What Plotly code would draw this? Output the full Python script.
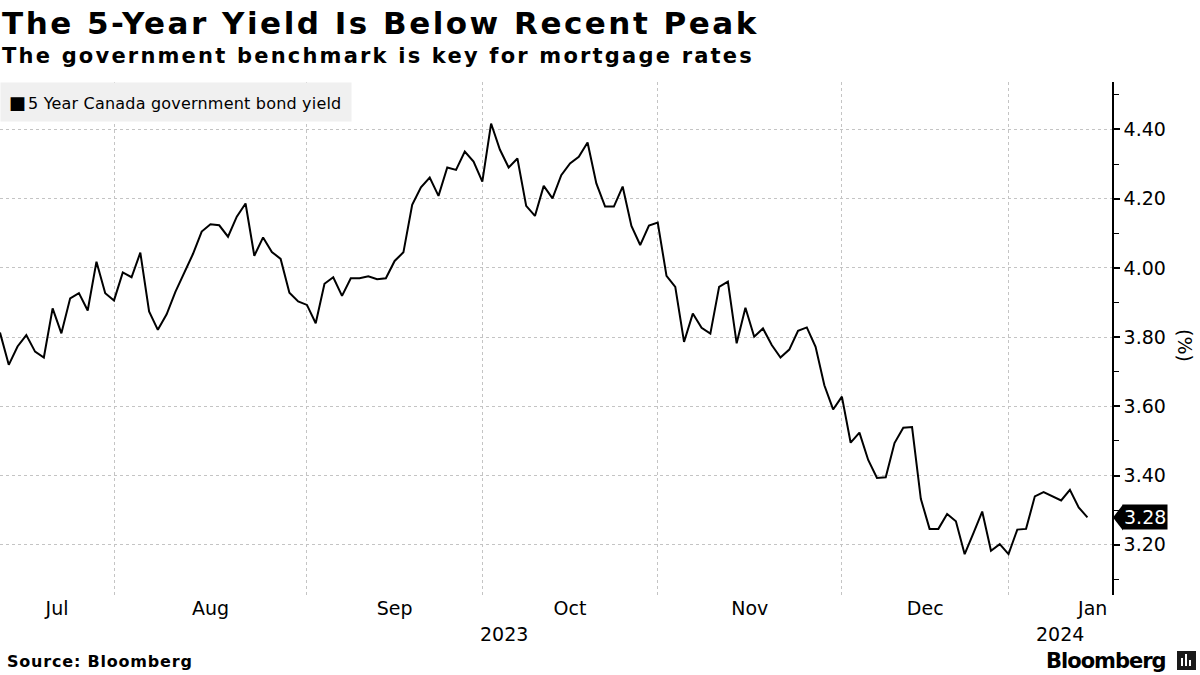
import pandas as pd
import plotly.graph_objects as go

# ---- data -------------------------------------------------------------
holidays = ["2023-08-07", "2023-09-04", "2023-10-02", "2023-10-09",
            "2023-11-13", "2023-12-25", "2023-12-26", "2024-01-01"]
dates = [d.strftime("%Y-%m-%d") for d in pd.bdate_range("2023-07-13", "2024-01-15")
         if d.strftime("%Y-%m-%d") not in holidays]

yields = [
    3.813, 3.720, 3.773, 3.806, 3.758, 3.741, 3.883, 3.811, 3.912, 3.927,
    3.877, 4.018, 3.927, 3.906, 3.987, 3.973, 4.044, 3.874, 3.821, 3.866,
    3.931, 3.984, 4.040, 4.105, 4.126, 4.123, 4.090, 4.148, 4.186, 4.035,
    4.088, 4.046, 4.026, 3.928, 3.903, 3.893, 3.840, 3.954, 3.973, 3.919,
    3.970, 3.970, 3.976, 3.967, 3.970, 4.020, 4.045, 4.182, 4.233, 4.261,
    4.208, 4.290, 4.283, 4.336, 4.307, 4.249, 4.417, 4.342, 4.290, 4.316,
    4.179, 4.150, 4.237, 4.201, 4.268, 4.302, 4.321, 4.362, 4.244, 4.177,
    4.177, 4.235, 4.121, 4.066, 4.122, 4.131, 3.977, 3.945, 3.786, 3.868,
    3.827, 3.810, 3.945, 3.960, 3.782, 3.885, 3.801, 3.825, 3.777, 3.741,
    3.764, 3.818, 3.828, 3.772, 3.661, 3.591, 3.628, 3.495, 3.524, 3.445,
    3.393, 3.395, 3.494, 3.538, 3.540, 3.333, 3.246, 3.246, 3.289, 3.268,
    3.173, 3.234, 3.296, 3.183, 3.202, 3.173, 3.244, 3.246, 3.340, 3.352,
    3.340, 3.328, 3.359, 3.308, 3.279,
]

month_names = ["Jul", "Aug", "Sep", "Oct", "Nov", "Dec", "Jan"]
year_labels = ["2023", "2024"]
y_ticks = [3.2, 3.4, 3.6, 3.8, 4.0, 4.2, 4.4]

title = "The 5-Year Yield Is Below Recent Peak"
subtitle = "The government benchmark is key for mortgage rates"
series_name = "5 Year Canada government bond yield"
source = "Source: Bloomberg"

# ---- derived positions (trading-day index axis) -------------------------
idx = list(range(len(dates)))
x_max = len(dates) + 1.8
y_min, y_max = 3.055, 4.537

month_starts = [i for i in range(1, len(dates)) if dates[i][5:7] != dates[i - 1][5:7]]
bounds = [0] + month_starts + [x_max]
month_pos = [(bounds[k] + bounds[k + 1]) / 2 for k in range(len(bounds) - 1)]
month_pos[-1] = x_max - 2.2
year_start = [i for i in month_starts if dates[i][5:7] == "01"][0]
year_pos = [year_start / 2, (year_start + x_max) / 2]

FONT = "DejaVu Sans"
GRID = "#c4c4c4"


def spaced(txt, px, bold=True):
    inner = f"<span style='letter-spacing:{px}px'>{txt}</span>"
    return f"<b>{inner}</b>" if bold else inner


fig = go.Figure()
fig.add_trace(go.Scatter(
    x=idx, y=yields, mode="lines", name=series_name,
    line=dict(color="black", width=2), customdata=dates,
    hovertemplate="%{customdata}: %{y:.3f}<extra></extra>", showlegend=False,
))

fig.update_layout(
    width=1200, height=675,
    margin=dict(l=0, r=88, t=82, b=80),
    paper_bgcolor="white", plot_bgcolor="white",
    font=dict(family=FONT, color="black", size=19),
    xaxis=dict(
        type="linear", range=[0, x_max], showgrid=False, zeroline=False,
        showline=False, tickmode="array", tickvals=month_pos, ticktext=month_names,
        ticks="", tickfont=dict(size=19),
        minor=dict(tickmode="array", tickvals=month_starts, showgrid=True,
                   gridcolor=GRID, griddash="dot", gridwidth=1, ticks=""),
    ),
    yaxis=dict(
        side="right", range=[y_min, y_max], tickmode="array", tickvals=y_ticks,
        tickformat=".2f", showgrid=True, gridcolor=GRID, griddash="dot", gridwidth=1,
        zeroline=False, showline=True, linecolor="black", linewidth=1.5,
        ticks="outside", ticklen=6, tickwidth=1.5, tickcolor="black",
        tickfont=dict(size=19),
        minor=dict(tickmode="linear", tick0=0, dtick=0.1, ticks="outside",
                   ticklen=5, tickcolor="black", tickwidth=1, showgrid=False),
    ),
)


def ypix(py):
    return (595 - py) / 513.0


ann = []
ann.append(dict(text=spaced(title, 2.5), x=0, y=ypix(23), xref="paper", yref="paper",
                xanchor="left", yanchor="middle", showarrow=False,
                font=dict(size=31, family=FONT)))
ann.append(dict(text=spaced(subtitle, 2.2), x=0, y=ypix(56), xref="paper", yref="paper",
                xanchor="left", yanchor="middle", showarrow=False,
                font=dict(size=21, family=FONT)))
ann.append(dict(text="<span style='font-size:18px'>&nbsp;■</span><span style='font-size:7px'>&nbsp;</span>"
                     + spaced(series_name, 0.2, bold=False),
                x=0, y=ypix(102), xref="paper", yref="paper",
                xanchor="left", yanchor="middle", showarrow=False, align="left",
                width=346, height=34, bgcolor="#f0f0f0", borderpad=2,
                font=dict(size=16, family=FONT)))
for yp, yl in zip(year_pos, year_labels):
    ann.append(dict(text=yl, x=yp, y=ypix(634), xref="x", yref="paper",
                    xanchor="center", yanchor="middle", showarrow=False,
                    font=dict(size=19, family=FONT)))
ann.append(dict(text="(%)", x=1185 / 1112, y=ypix(345), xref="paper", yref="paper",
                xanchor="center", yanchor="middle", showarrow=False, textangle=90,
                font=dict(size=19, family=FONT)))
ann.append(dict(text=f"{yields[-1]:.2f}", x=1, xshift=10, y=yields[-1], xref="paper", yref="y",
                xanchor="left", yanchor="middle", showarrow=False,
                bgcolor="black", borderpad=1, font=dict(size=19, color="white", family=FONT)))
ann.append(dict(text=spaced(source, 0.8), x=0, xshift=5, y=ypix(661), xref="paper", yref="paper",
                xanchor="left", yanchor="middle", showarrow=False,
                font=dict(size=16, family=FONT)))
ann.append(dict(text=spaced("Bloomberg", -1), x=1168 / 1112, y=ypix(661), xref="paper", yref="paper",
                xanchor="right", yanchor="middle", showarrow=False,
                font=dict(size=21, family=FONT)))
fig.update_layout(annotations=ann)

shapes = [
    # pointer of the last-value label
    dict(type="path", xref="paper", yref="y", xsizemode="pixel", ysizemode="pixel",
         xanchor=1, yanchor=yields[-1], path="M 1,0 L 11,13 L 11,-13 Z",
         fillcolor="black", line=dict(width=0)),
    # Bloomberg logo mark
    dict(type="rect", xref="paper", yref="paper", x0=1177 / 1112, x1=1196 / 1112,
         y0=ypix(670), y1=ypix(651), fillcolor="#1a1a1a", line=dict(width=0)),
]
for bx, bh in [(1181, 8), (1185, 12), (1189, 6)]:
    shapes.append(dict(type="rect", xref="paper", yref="paper", x0=bx / 1112, x1=(bx + 2) / 1112,
                       y0=ypix(666), y1=ypix(666 - bh), fillcolor="white", line=dict(width=0)))
fig.update_layout(shapes=shapes)

fig.write_html("out.html", config={"displayModeBar": False},
               post_script="document.body.style.margin='0px';")
